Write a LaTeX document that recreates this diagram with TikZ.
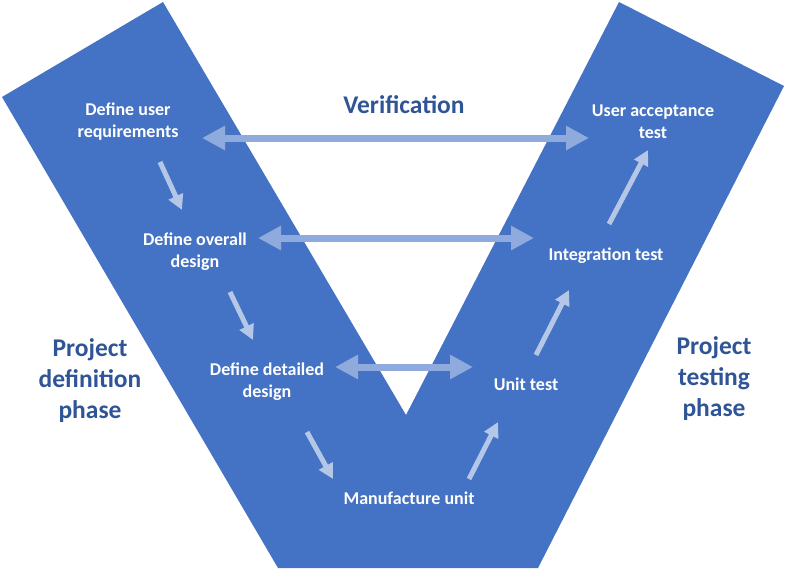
\documentclass[tikz,border=0pt]{standalone}
\usepackage{fontspec}
\setmainfont{Carlito}
\usetikzlibrary{arrows.meta}
\definecolor{vblue}{HTML}{4472C4}
\definecolor{linkblue}{HTML}{8FAADC}
\definecolor{steplight}{HTML}{B4C7E7}
\definecolor{phasedark}{HTML}{2F5597}
\tikzset{
  task/.style={text=white, font=\fontsize{18}{22}\selectfont\bfseries, align=center, inner sep=0pt},
  phase/.style={text=phasedark, font=\fontsize{25.5}{31}\selectfont\bfseries, align=center, inner sep=0pt},
  verlink/.style={linkblue, line width=7pt, {Triangle[length=23pt,width=23pt]}-{Triangle[length=23pt,width=23pt]}},
  steplink/.style={steplight, line width=5pt, -{Triangle[length=15pt,width=15pt]}}
}

\begin{document}
\begin{tikzpicture}[x=1pt,y=-1pt]
 \useasboundingbox (0,0) rectangle (786,571);

 % The V shape
 \fill[vblue] (2,97) -- (163,2) -- (406,415) -- (619,2) -- (784,86) -- (538,568) -- (278,568) -- cycle;

 % Tasks down the left arm
 \node[task] (defuser) at (128,122) {Define user\\requirements};
 \node[task] (defoverall) at (195,252) {Define overall\\design};
 \node[task] (defdetail) at (267,382) {Define detailed\\design};
 % Bottom of the V
 \node[task] (manunit) at (409,498) {Manufacture unit};
 % Tests up the right arm
 \node[task] (unittest) at (526,384) {Unit test};
 \node[task] (integtest) at (606,256) {Integration test};
 \node[task] (uatest) at (653,122) {User acceptance\\test};

 % Titles
 \node[phase, font=\fontsize{25.5}{31}\selectfont\bfseries] (verif) at (404,105) {Verification};
 \node[phase] (defphase) at (90,381) {Project\\definition\\phase};
 \node[phase] (testphase) at (714,379) {Project\\testing\\phase};

 % Arrow ends
 \coordinate (vertopl) at (202,138);
 \coordinate (vertopr) at (589,138);
 \coordinate (vermidl) at (258,238);
 \coordinate (vermidr) at (534,238);
 \coordinate (verlowl) at (335,367);
 \coordinate (verlowr) at (473,367);

 \coordinate (downa1) at (160,162);
 \coordinate (downa2) at (182,210);
 \coordinate (downb1) at (230,292);
 \coordinate (downb2) at (253,340);
 \coordinate (downc1) at (307,432);
 \coordinate (downc2) at (333,479);
 \coordinate (upa1) at (469,479);
 \coordinate (upa2) at (498,422);
 \coordinate (upb1) at (536,355);
 \coordinate (upb2) at (569,290);
 \coordinate (upc1) at (609,224);
 \coordinate (upc2) at (648,150);

 % Verification links
 \draw[verlink] (vertopl) -- (vertopr);
 \draw[verlink] (vermidl) -- (vermidr);
 \draw[verlink] (verlowl) -- (verlowr);

 % Steps through the V
 \foreach \s in {downa,downb,downc,upa,upb,upc} {
  \draw[steplink] (\s1) -- (\s2);
 }
\end{tikzpicture}
\end{document}
